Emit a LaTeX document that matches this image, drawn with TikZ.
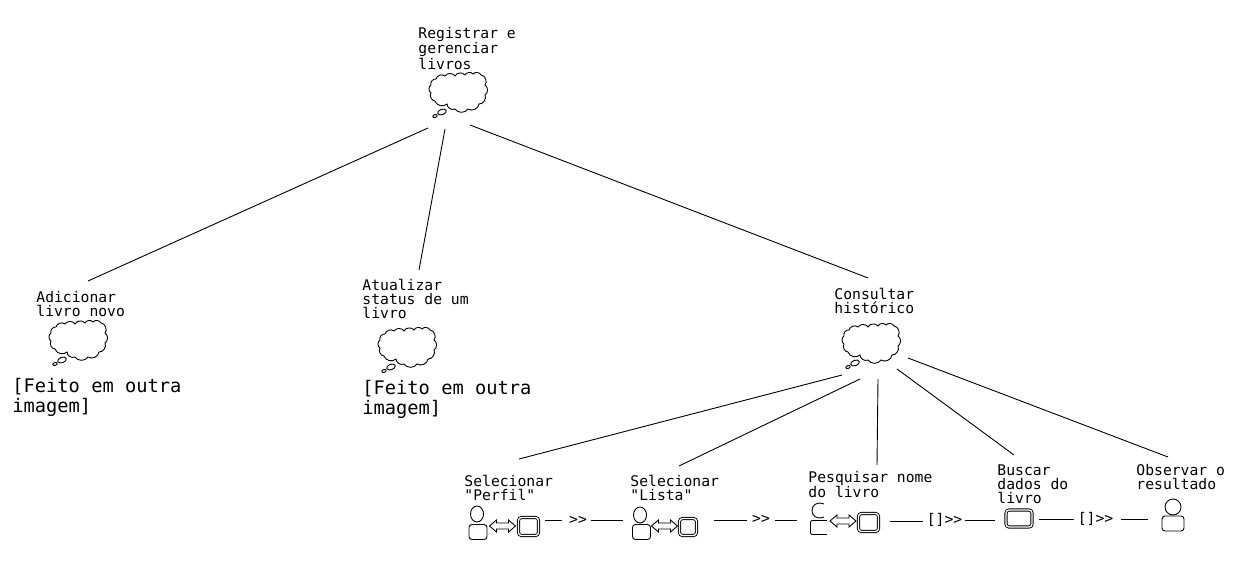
\documentclass[tikz,border=0pt]{standalone}
\usepackage{fontspec}
\newfontfamily\monotext{DejaVu Sans Mono}
\usetikzlibrary{shapes.geometric}
\tikzset{
  x=1pt,y=-1pt,
  every path/.append style={line width=0.9pt},
  lbl/.style={anchor=north west,inner sep=0pt,align=left,font=\monotext\fontsize{14.7}{14}\selectfont},
  big/.style={anchor=north west,inner sep=0pt,align=left,font=\monotext\fontsize{18.7}{20}\selectfont},
  op/.style={inner sep=0pt,font=\monotext\fontsize{14.7}{14}\selectfont},
  headshape/.style={draw,ellipse,inner sep=0pt,minimum width=13pt,minimum height=16pt},
  bodyshape/.style={draw,rectangle,rounded corners=3pt,inner sep=0pt,minimum width=18pt,minimum height=15pt},
  screenbox/.style={draw,double,double distance=1.3pt,rectangle,rounded corners=3pt,inner sep=0pt},
  pics/thought/.style={code={
    \draw (-22,-13) to[bend left=60] (-13,-16) to[bend left=60] (-3,-16) to[bend left=60] (7,-17) to[bend left=60] (15,-18)
      to[bend left=60] (23,-17) to[bend left=65] (27,-7) to[bend left=60] (27,3)
      to[bend left=60] (21,12) to[bend left=60] (10,17) to[bend left=60] (-3,17)
      to[bend left=60] (-11,12) to[bend left=60] (-23,9) to[bend left=60] (-27,1) to[bend left=60] (-27,-7)
      to[bend left=60] cycle;
    \draw[rotate around={20:(-16,20)}] (-16,20) ellipse[x radius=4.5,y radius=2.7];
    \draw[rotate around={20:(-23,24)}] (-23,24) ellipse[x radius=2.3,y radius=1.4];
  }},
  pics/twoway/.style={code={
    \draw (-13,0) -- (-6,-6) -- (-6,-3) -- (6,-3) -- (6,-6) -- (13,0) -- (6,6) -- (6,3) -- (-6,3) -- (-6,6) -- cycle;
  }}
}
\begin{document}
\begin{tikzpicture}
\useasboundingbox[fill=white] (0,0) rectangle (1242,569);
% labels
\node[lbl] (tRoot) at (418,27) {Registrar e\\gerenciar\\livros};
\node[lbl] (tAdd) at (36,291) {Adicionar\\livro novo};
\node[lbl] (tUpd) at (362,279) {Atualizar\\status de um\\livro};
\node[lbl] (tCon) at (834,288) {Consultar\\histórico};
\node[big] (fA) at (12,378) {[Feito em outra\\imagem]};
\node[big] (fB) at (362,380) {[Feito em outra\\imagem]};
\node[lbl] (t1) at (464,475) {Selecionar\\"Perfil"};
\node[lbl] (t2) at (630,475) {Selecionar\\"Lista"};
\node[lbl] (t3) at (808,471) {Pesquisar nome\\do livro};
\node[lbl] (t4) at (997,464) {Buscar\\dados do\\livro};
\node[lbl] (t5) at (1136,464) {Observar o\\resultado};
% clouds
\pic at (458,92) {thought};
\pic at (78,340) {thought};
\pic at (407,347) {thought};
\pic at (871,343) {thought};
% tree connectors
\coordinate (r1) at (428,128); \coordinate (a1) at (88,281);
\coordinate (r2) at (445,129); \coordinate (b1) at (419,270);
\coordinate (r3) at (470,125); \coordinate (c1) at (868,278);
\draw (r1) -- (a1);
\draw (r2) -- (b1);
\draw (r3) -- (c1);
\coordinate (c2) at (842,375); \coordinate (s1) at (519,459);
\coordinate (c3) at (860,379); \coordinate (s2) at (679,466);
\coordinate (c4) at (878,379); \coordinate (s3) at (877,465);
\coordinate (c5) at (897,369); \coordinate (s4) at (1014,455);
\coordinate (c6) at (908,358); \coordinate (s5) at (1168,457);
\draw (c2) -- (s1);
\draw (c3) -- (s2);
\draw (c4) -- (s3);
\draw (c5) -- (s4);
\draw (c6) -- (s5);
% task 1
\node[headshape] (h1) at (477,514) {};
\node[bodyshape] (b1x) at (478,532) {};
\pic at (502.5,526) {twoway};
\node[screenbox,minimum width=20pt,minimum height=18pt] (sc1) at (528.5,526.5) {};
% task 2
\node[headshape] (h2) at (640,515) {};
\node[bodyshape] (b2x) at (641.5,532) {};
\pic at (664.5,526) {twoway};
\node[screenbox,minimum width=17pt,minimum height=17pt] (sc2) at (688,527) {};
% task 3
\coordinate (h3a) at (824,504); \coordinate (h3b) at (824,517);
\draw (h3a) .. controls (808,498) and (808,523) .. (h3b);
\coordinate (b3a) at (827,520.5); \coordinate (b3b) at (810.5,520.5); \coordinate (b3c) at (810.5,534.5); \coordinate (b3d) at (827,534.5);
\draw[rounded corners=2pt] (b3a) -- (b3b) -- (b3c) -- (b3d);
\pic at (843,521) {twoway};
\node[screenbox,minimum width=20pt,minimum height=18pt] (sc3) at (868.5,522.5) {};
% task 4
\node[screenbox,minimum width=26pt,minimum height=17pt] (sc4) at (1019,518.5) {};
% task 5
\node[draw,circle,inner sep=0pt,minimum size=16pt] (h5) at (1173,507) {};
\node[bodyshape,minimum width=22pt] (b5) at (1173,523.5) {};
% operators
\node[op] (o1) at (578,520) {>>};
\node[op] (o2) at (761,519) {>>};
\node[op] (o3) at (944.5,520) {[]>>};
\node[op] (o4) at (1095.5,518.5) {[]>>};
\coordinate (l1a) at (545,520.5); \coordinate (l1b) at (562,520.5); \coordinate (l1c) at (591,520.5); \coordinate (l1d) at (623,520.5);
\coordinate (l2a) at (714,520.5); \coordinate (l2b) at (747,520.5); \coordinate (l2c) at (775,520.5); \coordinate (l2d) at (797,520.5);
\coordinate (l3a) at (890,521.5); \coordinate (l3b) at (923,521.5); \coordinate (l3c) at (965,520.5); \coordinate (l3d) at (995,520.5);
\coordinate (l4a) at (1039,519.5); \coordinate (l4b) at (1074,519.5); \coordinate (l4c) at (1121,519.5); \coordinate (l4d) at (1148,519.5);
\draw (l1a) -- (l1b); \draw (l1c) -- (l1d);
\draw (l2a) -- (l2b); \draw (l2c) -- (l2d);
\draw (l3a) -- (l3b); \draw (l3c) -- (l3d);
\draw (l4a) -- (l4b); \draw (l4c) -- (l4d);
\end{tikzpicture}
\end{document}
